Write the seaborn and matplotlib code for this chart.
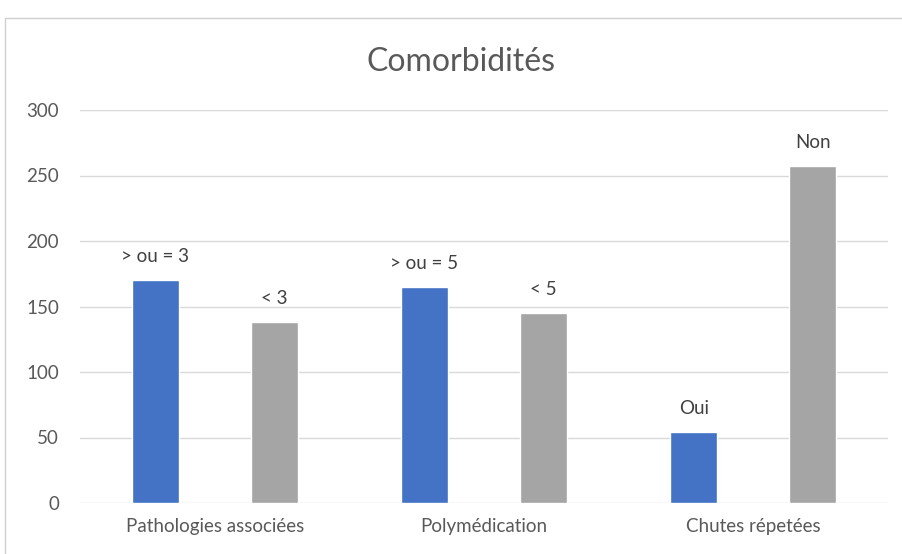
import pandas as pd
import matplotlib
matplotlib.use("Agg")
import matplotlib.pyplot as plt
import seaborn as sns
from matplotlib.patches import Rectangle

# data
groupes = ["Pathologies associées", "Polymédication", "Chutes répetées"]
serie_bleue = [170, 165, 54]
serie_grise = [138, 145, 257]
etiquettes_bleues = ["> ou = 3", "> ou = 5", "Oui"]
etiquettes_grises = ["< 3", "< 5", "Non"]
yticks = [0, 50, 100, 150, 200, 250, 300]

df = pd.DataFrame({
    "groupe": groupes * 2,
    "serie": ["bleue"] * 3 + ["grise"] * 3,
    "valeur": serie_bleue + serie_grise,
})

sns.set_style("white")
plt.rcParams["font.family"] = ["Lato", "DejaVu Sans"]

text_col = "#595959"
grid_col = "#D9D9D9"

fig = plt.figure(figsize=(9.02, 5.54), dpi=100)
ax = fig.add_axes([80 / 902, 51 / 554, 808 / 902, 393 / 554])

sns.barplot(data=df, x="groupe", y="valeur", hue="serie", order=groupes,
            hue_order=["bleue", "grise"], palette=["#4472C4", "#A5A5A5"],
            saturation=1, width=0.884, gap=0.604, legend=False, ax=ax)

# labels above each bar
ax.bar_label(ax.containers[0], labels=etiquettes_bleues, padding=11,
             fontsize=13.5, color="#404040")
ax.bar_label(ax.containers[1], labels=etiquettes_grises, padding=11,
             fontsize=13.5, color="#404040")

ax.set_ylim(0, 300)
ax.set_xlim(-0.5, 2.5)
ax.set_yticks(yticks)
ax.set_xlabel("")
ax.set_ylabel("")
ax.yaxis.grid(True, color=grid_col, linewidth=1)
ax.set_axisbelow(True)
for s in ax.spines.values():
    s.set_visible(False)
ax.tick_params(axis="y", length=0, pad=15, labelsize=13.5, labelcolor=text_col)
ax.tick_params(axis="x", length=0, pad=11, labelsize=13.5, labelcolor=text_col)

# chart title and outer frame
fig.text(461 / 902, 1 - 62 / 554, "Comorbidités", ha="center", va="center",
         fontsize=23, color=text_col)
fig.patches.append(Rectangle((5 / 902, -0.1), 1.2, 1 - 18 / 554 + 0.1,
                             transform=fig.transFigure, fill=False,
                             edgecolor="#D0D0D0", linewidth=1))

fig.savefig("out.png", dpi=100)
